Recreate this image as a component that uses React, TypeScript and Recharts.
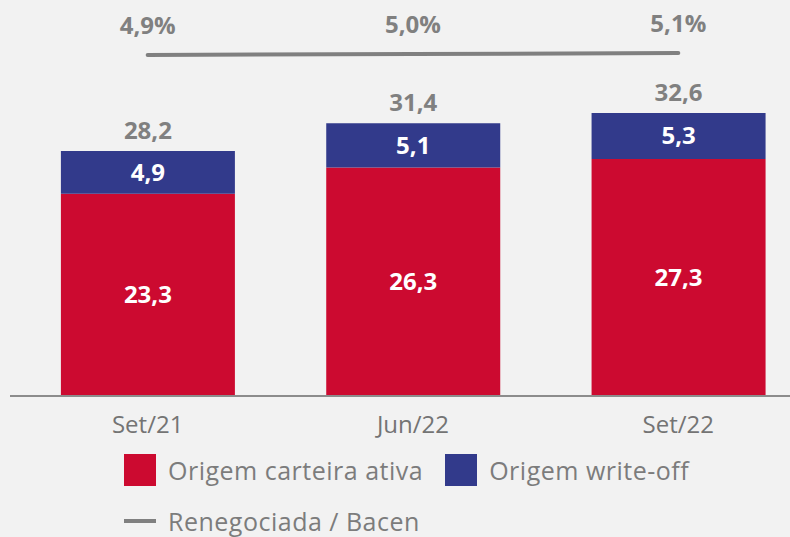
import { ComposedChart, Bar, Line, XAxis, YAxis, LabelList } from 'recharts';

const categories = ['Set/21', 'Jun/22', 'Set/22'];
const carteiraAtiva = [23.3, 26.3, 27.3];
const writeOff = [4.9, 5.1, 5.3];
const totals = [28.2, 31.4, 32.6];
const renegociada = [4.9, 5.0, 5.1];

const RED = '#cc0a30';
const BLUE = '#323a8b';
const GRAY = '#808080';
const FONT = '"Open Sans", "Noto Sans", sans-serif';

const data = categories.map((c, i) => ({
  name: c,
  ativa: carteiraAtiva[i],
  writeOff: writeOff[i],
  total: totals[i],
  reneg: renegociada[i],
}));

const fmt = (v: number) => v.toFixed(1).replace('.', ',');

function XTick({ x, y, payload }: any) {
  return (
    <text x={x} y={y + 29} textAnchor="middle" fill="#747474" fontSize={24} fontFamily={FONT}>
      {payload.value}
    </text>
  );
}

function Legend() {
  const text = { color: '#7c7c7c', fontSize: 25, fontFamily: FONT, letterSpacing: 0.5 };
  return (
    <div style={{ position: 'absolute', left: 124, top: 452, ...text }}>
      <div style={{ display: 'flex', alignItems: 'center', height: 36 }}>
        <span style={{ width: 32, height: 32, background: RED, marginRight: 12 }} />
        <span>Origem carteira ativa</span>
        <span style={{ width: 32, height: 32, background: BLUE, marginLeft: 22, marginRight: 12 }} />
        <span>Origem write-off</span>
      </div>
      <div style={{ display: 'flex', alignItems: 'center', height: 36, marginTop: 15 }}>
        <span style={{ width: 32, height: 4, background: GRAY, marginRight: 12 }} />
        <span>Renegociada / Bacen</span>
      </div>
    </div>
  );
}

const boldLabel = { fontSize: 24, fontWeight: 700, fontFamily: FONT };

export default function App() {
  return (
    <div
      style={{
        position: 'absolute', left: 0, top: 0, width: 790, height: 537,
        overflow: 'hidden', background: '#f2f2f2',
      }}
    >
      <ComposedChart
        width={811}
        height={537}
        data={data}
        margin={{ top: 0, right: 0, left: 10, bottom: 101 }}
        barCategoryGap="17.3%"
      >
        <XAxis
          dataKey="name"
          height={40}
          padding={{ left: 5, right: 0 }}
          tickLine={false}
          axisLine={{ stroke: '#8c8c8c', strokeWidth: 2 }}
          tick={<XTick />}
        />
        <YAxis yAxisId="v" hide domain={[0, 45.6]} />
        <YAxis yAxisId="p" hide orientation="right" domain={[-29.2, 10.4]} />
        <Bar yAxisId="v" dataKey="ativa" stackId="a" fill={RED} isAnimationActive={false}>
          <LabelList
            dataKey="ativa"
            position="center"
            formatter={(v: any) => fmt(v)}
            fill="#fff"
            {...boldLabel}
          />
        </Bar>
        <Bar yAxisId="v" dataKey="writeOff" stackId="a" fill={BLUE} isAnimationActive={false}>
          <LabelList
            dataKey="writeOff"
            position="center"
            formatter={(v: any) => fmt(v)}
            fill="#fff"
            {...boldLabel}
          />
          <LabelList
            dataKey="total"
            position="top"
            offset={12}
            formatter={(v: any) => fmt(v)}
            fill={GRAY}
            {...boldLabel}
          />
        </Bar>
        <Line
          yAxisId="p"
          dataKey="reneg"
          stroke={GRAY}
          strokeWidth={4}
          strokeLinecap="round"
          dot={false}
          isAnimationActive={false}
        >
          <LabelList
            dataKey="reneg"
            position="top"
            offset={21}
            formatter={(v: any) => fmt(v) + '%'}
            fill={GRAY}
            {...boldLabel}
          />
        </Line>
      </ComposedChart>
      <Legend />
    </div>
  );
}
